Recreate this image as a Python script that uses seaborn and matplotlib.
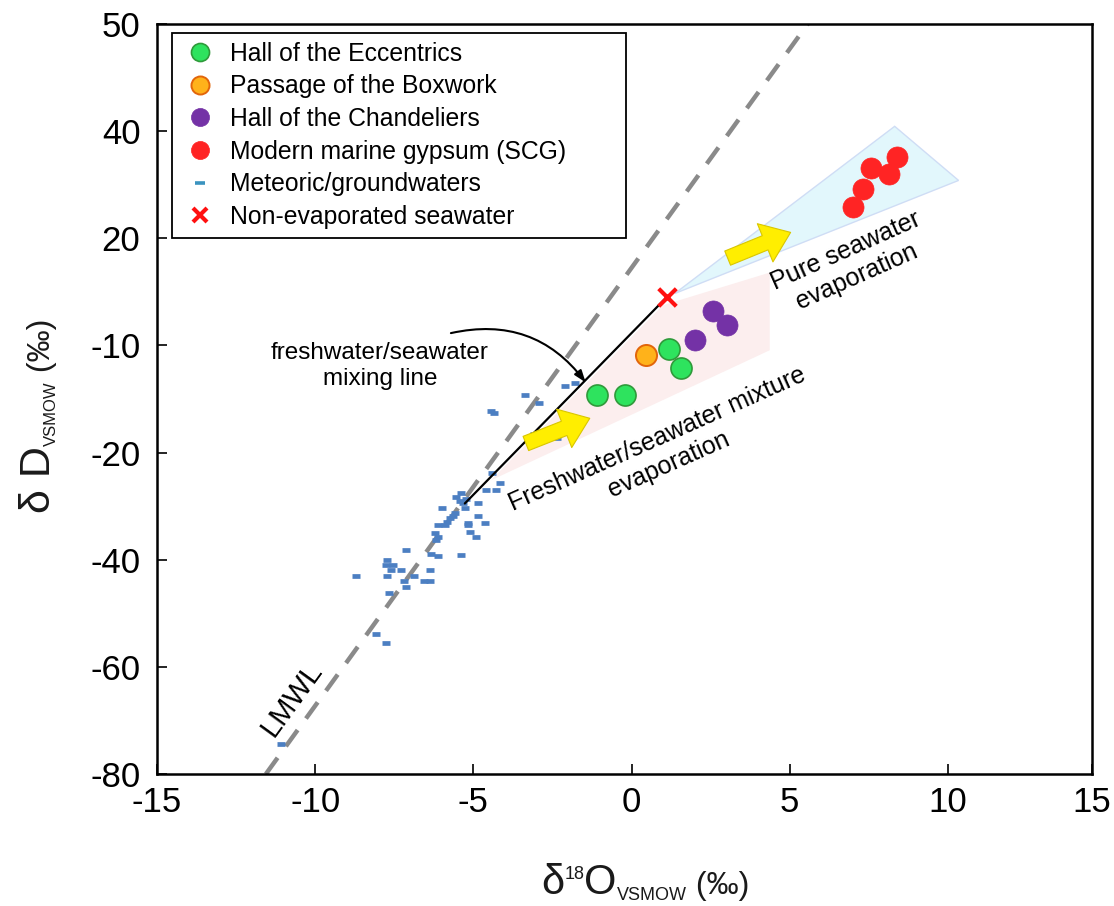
import matplotlib
matplotlib.use('Agg')
import matplotlib.pyplot as plt
from matplotlib.lines import Line2D
from matplotlib.patches import Polygon
from matplotlib.transforms import IdentityTransform
import seaborn as sns

# --- data (delta18O, deltaD, permil) ---
eccentrics_o = [-1.10, -0.20, 1.20, 1.56]
eccentrics_d = [-9.3, -9.3, -0.7, -4.3]
boxwork_o = [0.45]
boxwork_d = [-1.7]
chandeliers_o = [2.00, 2.57, 3.01]
chandeliers_d = [1.1, 6.4, 3.9]
scg_o = [6.99, 7.31, 7.56, 8.13, 8.38]
scg_d = [25.8, 29.2, 33.1, 32.0, 35.1]
seawater_o = [1.11]
seawater_d = [9.0]

meteoric_o = [-1.79, -2.11, -3.37, -2.93, -4.45, -4.35, -3.09, -2.36, -4.42, -4.16,
              -4.61, -4.29, -5.39, -5.55, -4.86, -6.00, -5.33, -5.27, -5.58, -5.65,
              -4.86, -4.64, -5.17, -5.17, -5.90, -6.12, -5.11, -4.92, -6.22, -6.12,
              -6.19, -6.34, -6.12, -5.39, -7.13, -7.73, -7.76, -7.54, -7.61, -7.29,
              -6.37, -7.73, -6.88, -8.71, -7.20, -6.56, -6.37, -7.13, -7.67, -8.08,
              -7.76, -11.08, -5.43, -5.24, -5.74, -5.84]
meteoric_d = [-7.1, -7.5, -9.3, -10.7, -12.2, -12.7, -16.5, -17.2, -23.9, -25.6,
              -26.9, -26.9, -27.5, -28.2, -29.5, -30.3, -29.5, -30.3, -31.2, -31.8,
              -31.8, -33.1, -33.1, -33.6, -33.5, -33.6, -34.8, -35.7, -35.0, -35.7,
              -36.4, -38.9, -39.3, -39.1, -38.1, -40.0, -40.9, -40.9, -41.9, -41.9,
              -41.9, -43.0, -43.0, -43.0, -43.9, -43.9, -43.9, -45.1, -46.2, -53.8,
              -55.5, -74.4, -29.0, -28.6, -32.3, -32.9]

lmwl_o = [-11.56, 5.57]
lmwl_d = [-80, 60]
mixing_o = [-5.27, 1.11]
mixing_d = [-29.5, 9.0]

pure_evap_o = [1.37, 8.32, 10.34]
pure_evap_d = [9.7, 40.9, 30.8]
mix_evap_o = [-4.45, 0.99, 4.37, 4.37]
mix_evap_d = [-25.2, 7.5, 13.6, -0.9]

xtick_pos = [-15, -10, -5, 0, 5, 10, 14.55]
xtick_labels = ['-15', '-10', '-5', '0', '5', '10', '15']
ytick_pos = [60, 40, 20, 0, -20, -40, -60, -80]
ytick_labels = ['50', '40', '20', '-10', '-20', '-40', '-60', '-80']

# --- style ---
sns.set_style('white')
plt.rcParams['font.family'] = ['Liberation Sans', 'DejaVu Sans']
plt.rcParams['text.color'] = 'black'

green, green_edge = '#2EE35E', '#2F9A3A'
orange, orange_edge = '#FFB21A', '#E2650A'
purple = '#7432A6'
red = '#FF2424'
blue = '#4C7FC2'


def label_pieces(fig, pieces, center, base, vertical=False, color='#1A1A1A'):
    """Lay out (text, size, offset) pieces along a baseline, in pixels."""
    renderer = fig.canvas.get_renderer()
    texts, lengths = [], []
    for txt, size, off in pieces:
        t = fig.text(0, 0, txt, fontsize=size, color=color, ha='left', va='baseline',
                     rotation=90 if vertical else 0, rotation_mode='anchor',
                     transform=IdentityTransform())
        bb = t.get_window_extent(renderer)
        texts.append((t, off))
        lengths.append(bb.height if vertical else bb.width)
    pos = center - sum(lengths) / 2
    for (t, off), ln in zip(texts, lengths):
        if vertical:
            t.set_position((base + off, pos))
        else:
            t.set_position((pos, base + off))
        pos += ln


fig, ax = plt.subplots(figsize=(11.14, 9.06), dpi=100)
fig.subplots_adjust(left=0.141, right=0.980, bottom=0.1457, top=0.9735)

# shaded evaporation fields
ax.add_patch(Polygon(list(zip(pure_evap_o, pure_evap_d)), closed=True,
                     fc='#E2F7FC', ec='#CFDDF5', lw=1.0, zorder=1))
ax.add_patch(Polygon(list(zip(mix_evap_o, mix_evap_d)), closed=True,
                     fc='#FCEEEE', ec='none', zorder=1))

# LMWL
sns.lineplot(x=lmwl_o, y=lmwl_d, ax=ax, color='#8A8A8A', lw=3.2,
             linestyle=(0, (4.5, 3.2)), zorder=2)

# meteoric / groundwaters
sns.scatterplot(x=meteoric_o, y=meteoric_d, ax=ax, marker='_', s=40,
                linewidth=3.4, color=blue, zorder=3)

# mixing line
sns.lineplot(x=mixing_o, y=mixing_d, ax=ax, color='black', lw=1.6, zorder=4)

# samples
sns.scatterplot(x=eccentrics_o, y=eccentrics_d, ax=ax, s=230, color=green,
                edgecolor=green_edge, linewidth=1.2, zorder=5)
sns.scatterplot(x=boxwork_o, y=boxwork_d, ax=ax, s=230, color=orange,
                edgecolor=orange_edge, linewidth=1.4, zorder=5)
sns.scatterplot(x=chandeliers_o, y=chandeliers_d, ax=ax, s=230, color=purple,
                edgecolor=purple, linewidth=0.5, zorder=5)
sns.scatterplot(x=scg_o, y=scg_d, ax=ax, s=230, color=red,
                edgecolor=red, linewidth=0.5, zorder=5)
sns.scatterplot(x=seawater_o, y=seawater_d, ax=ax, marker='x', s=160,
                linewidth=3, color='#FF1010', zorder=6)

# yellow evaporation arrows
arrow_kw = dict(arrowstyle='simple,head_length=0.9,head_width=1.35,tail_width=0.5',
                fc='#FFEE00', ec='#D9C600', lw=0.8, mutation_scale=22,
                shrinkA=0, shrinkB=0)
ax.annotate('', xy=(-1.32, -13.6), xytext=(-3.34, -18.3), arrowprops=arrow_kw, zorder=6)
ax.annotate('', xy=(5.03, 21.1), xytext=(3.04, 16.3), arrowprops=arrow_kw, zorder=6)

# annotations
ax.text(-7.95, -3.9, 'freshwater/seawater\nmixing line', ha='center', va='center',
        fontsize=17.5, multialignment='center', linespacing=1.25)
ax.annotate('', xy=(-1.45, -6.9), xytext=(-5.71, 2.3),
            arrowprops=dict(arrowstyle='-|>,head_length=0.7,head_width=0.25',
                            connectionstyle='arc3,rad=-0.32', color='black', lw=1.5,
                            shrinkA=0, shrinkB=0))
ax.text(6.95, 15.3, 'Pure seawater\nevaporation', rotation=24, ha='center',
        va='center', multialignment='center', fontsize=18, rotation_mode='anchor')
ax.text(1.0, -19.8, 'Freshwater/seawater mixture\nevaporation', rotation=24,
        ha='center', va='center', multialignment='center', fontsize=18,
        rotation_mode='anchor')
ax.text(-10.75, -66.0, 'LMWL', rotation=54, ha='center', va='center', fontsize=21,
        rotation_mode='anchor')

# axes
ax.set_xlim(-15, 14.55)
ax.set_ylim(-80, 60)
ax.set_xticks(xtick_pos, labels=xtick_labels)
ax.set_yticks(ytick_pos, labels=ytick_labels)
ax.tick_params(axis='both', labelsize=25, direction='in', length=7, width=1.2,
               bottom=True, left=True, colors='black')
ax.tick_params(axis='x', pad=9)
ax.tick_params(axis='y', pad=12)
for sp in ax.spines.values():
    sp.set_linewidth(1.8)
    sp.set_color('black')
ax.set_xlabel('')
ax.set_ylabel('')

# axis titles with mixed text sizes (pixel layout, origin bottom-left)
label_pieces(fig, [('δ', 30, 0), ('18', 13, 15), ('O', 30, 0), ('VSMOW', 13, -6),
                   (' (‰)', 23, 0)], center=645, base=12)
label_pieces(fig, [('δ D', 31, 0), ('VSMOW', 12, 6), (' (‰)', 23, 0)],
             center=490, base=50, vertical=True)

# legend
handles = [
    Line2D([], [], ls='', marker='o', ms=13, mfc=green, mec=green_edge, mew=1.2),
    Line2D([], [], ls='', marker='o', ms=13, mfc=orange, mec=orange_edge, mew=1.4),
    Line2D([], [], ls='', marker='o', ms=13, mfc=purple, mec=purple, mew=0.5),
    Line2D([], [], ls='', marker='o', ms=13, mfc=red, mec=red, mew=0.5),
    Line2D([], [], ls='', marker='_', ms=7, mec='#3A93BF', mew=2.6),
    Line2D([], [], ls='', marker='x', ms=10, mec='#FF1010', mew=3),
]
labels = ['Hall of the Eccentrics', 'Passage of the Boxwork', 'Hall of the Chandeliers',
          'Modern marine gypsum (SCG)', 'Meteoric/groundwaters', 'Non-evaporated seawater']
leg = ax.legend(handles, labels, loc='upper left',
                bbox_to_anchor=(0.016, 0.0, 0.4856, 0.988), mode='expand',
                borderaxespad=0, fontsize=17.8, frameon=True, fancybox=False,
                framealpha=1, edgecolor='black', labelspacing=0.35,
                handletextpad=0.4, handlelength=1.6, borderpad=0.35)
leg.get_frame().set_linewidth(1.3)

fig.savefig('out.png', dpi=100)
